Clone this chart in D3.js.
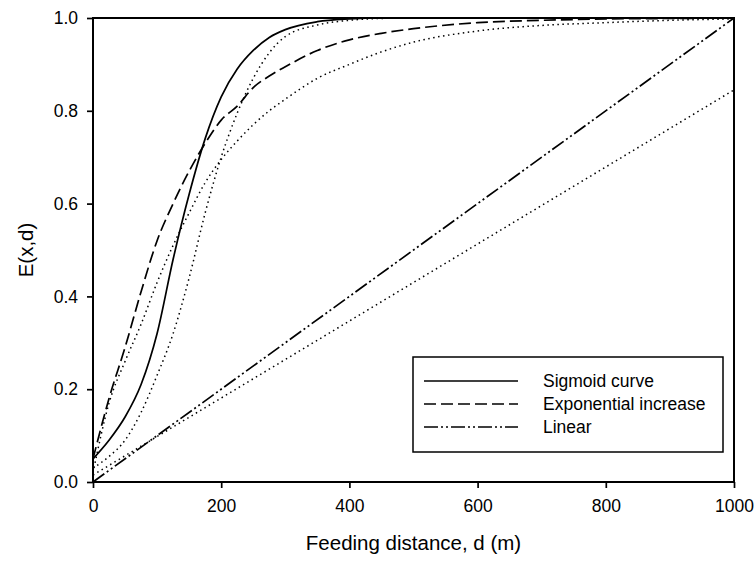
<!DOCTYPE html>
<html>
<head>
<meta charset="utf-8">
<script src="https://cdn.jsdelivr.net/npm/d3@7"></script>
<style>
  body { margin: 0; background: #fff; }
  svg { display: block; font-family: "Liberation Sans", Arial, sans-serif; }
</style>
</head>
<body>
<div id="chart"></div>
<script>
// distances (m)
const distances = [0, 25, 50, 75, 100, 125, 150, 175, 200, 225, 250, 275, 300, 350, 400, 450, 500, 600, 700, 800, 900, 1000];

// E(x,d) values, one per distance
const sigmoidSolid  = [0.05, 0.09, 0.14, 0.21, 0.32, 0.48, 0.62, 0.74, 0.83, 0.89, 0.93, 0.958, 0.975, 0.992, 0.998, 1, 1, 1, 1, 1, 1, 1];
const sigmoidDotted = [0.03, 0.055, 0.09, 0.15, 0.23, 0.32, 0.44, 0.58, 0.70, 0.795, 0.87, 0.925, 0.96, 0.985, 0.995, 0.999, 1, 1, 1, 1, 1, 1];
const expDashed     = [0.05, 0.18, 0.29, 0.41, 0.52, 0.60, 0.67, 0.73, 0.78, 0.81, 0.85, 0.875, 0.895, 0.93, 0.953, 0.967, 0.977, 0.99, 0.995, 0.998, 0.999, 1];
const expDotted     = [0.02, 0.17, 0.26, 0.34, 0.43, 0.51, 0.58, 0.645, 0.695, 0.735, 0.77, 0.80, 0.825, 0.87, 0.90, 0.927, 0.948, 0.972, 0.984, 0.99, 0.995, 0.998];
const linearDist    = [0, 1000];
const linearDashDot = [0, 1];
const linearDotted  = [0.015, 0.845];

const xTicks = [0, 200, 400, 600, 800, 1000];
const yTicks = [0, 0.2, 0.4, 0.6, 0.8, 1.0];
const legendLabels = ['Sigmoid curve', 'Exponential increase', 'Linear'];

const width = 756, height = 563;
const margin = {top: 18, right: 22, bottom: 81, left: 93};
const innerW = width - margin.left - margin.right;
const innerH = height - margin.top - margin.bottom;

const svg = d3.select('#chart').append('svg')
  .attr('width', width)
  .attr('height', height);

const g = svg.append('g').attr('transform', `translate(${margin.left},${margin.top})`);

const x = d3.scaleLinear().domain([0, 1000]).range([0, innerW]);
const y = d3.scaleLinear().domain([0, 1]).range([innerH, 0]);

// line styles
const styles = {
  solid:   {dash: null, w: 1.7},
  dashed:  {dash: '12,5', w: 1.7},
  dotted:  {dash: '1.5,3.5', w: 1.5},
  dashdot: {dash: '14,3,2,3,2,3', w: 1.7}
};

const series = [
  {xs: distances, ys: sigmoidDotted, style: 'dotted'},
  {xs: distances, ys: expDotted, style: 'dotted'},
  {xs: linearDist, ys: linearDotted, style: 'dotted'},
  {xs: distances, ys: sigmoidSolid, style: 'solid'},
  {xs: distances, ys: expDashed, style: 'dashed'},
  {xs: linearDist, ys: linearDashDot, style: 'dashdot'}
];

const line = d3.line()
  .x(d => x(d[0]))
  .y(d => y(d[1]))
  .curve(d3.curveMonotoneX);

g.append('g').selectAll('path')
  .data(series)
  .join('path')
  .attr('d', s => line(s.xs.map((v, i) => [v, s.ys[i]])))
  .attr('fill', 'none')
  .attr('stroke', '#000')
  .attr('stroke-width', s => styles[s.style].w)
  .attr('stroke-dasharray', s => styles[s.style].dash);

// frame
g.append('rect')
  .attr('width', innerW)
  .attr('height', innerH)
  .attr('fill', 'none')
  .attr('stroke', '#000')
  .attr('stroke-width', 2);

// axes
const xAxis = g.append('g')
  .attr('transform', `translate(0,${innerH})`)
  .call(d3.axisBottom(x).tickValues(xTicks).tickSize(6).tickPadding(12).tickFormat(d3.format('d')));
const yAxis = g.append('g')
  .call(d3.axisLeft(y).tickValues(yTicks).tickSize(6).tickPadding(9).tickFormat(d3.format('.1f')));

[xAxis, yAxis].forEach(a => {
  a.select('.domain').remove();
  a.selectAll('line').attr('stroke', '#000').attr('stroke-width', 1.7);
  a.selectAll('text')
    .attr('fill', '#000')
    .style('font-size', '17.5px')
    .style('font-family', '"Liberation Sans", Arial, sans-serif');
});

// axis titles
svg.append('text')
  .attr('x', margin.left + innerW / 2)
  .attr('y', 550)
  .attr('text-anchor', 'middle')
  .style('font-size', '20.5px')
  .text('Feeding distance, d (m)');

svg.append('text')
  .attr('transform', `translate(33,${margin.top + innerH / 2}) rotate(-90)`)
  .attr('text-anchor', 'middle')
  .style('font-size', '20.5px')
  .text('E(x,d)');

// legend
const legend = svg.append('g').attr('transform', 'translate(413,357)');
legend.append('rect')
  .attr('width', 310)
  .attr('height', 95)
  .attr('fill', '#fff')
  .attr('stroke', '#000')
  .attr('stroke-width', 1.5);

const legendStyles = ['solid', 'dashed', 'dashdot'];
const rows = legend.selectAll('g.row')
  .data(legendLabels)
  .join('g')
  .attr('class', 'row')
  .attr('transform', (d, i) => `translate(0,${24 + i * 23})`);

rows.append('line')
  .attr('x1', 11).attr('x2', 105)
  .attr('stroke', '#000')
  .attr('stroke-width', (d, i) => styles[legendStyles[i]].w)
  .attr('stroke-dasharray', (d, i) => styles[legendStyles[i]].dash);

rows.append('text')
  .attr('x', 130)
  .attr('dy', '0.35em')
  .style('font-size', '17.5px')
  .text(d => d);
</script>
</body>
</html>
